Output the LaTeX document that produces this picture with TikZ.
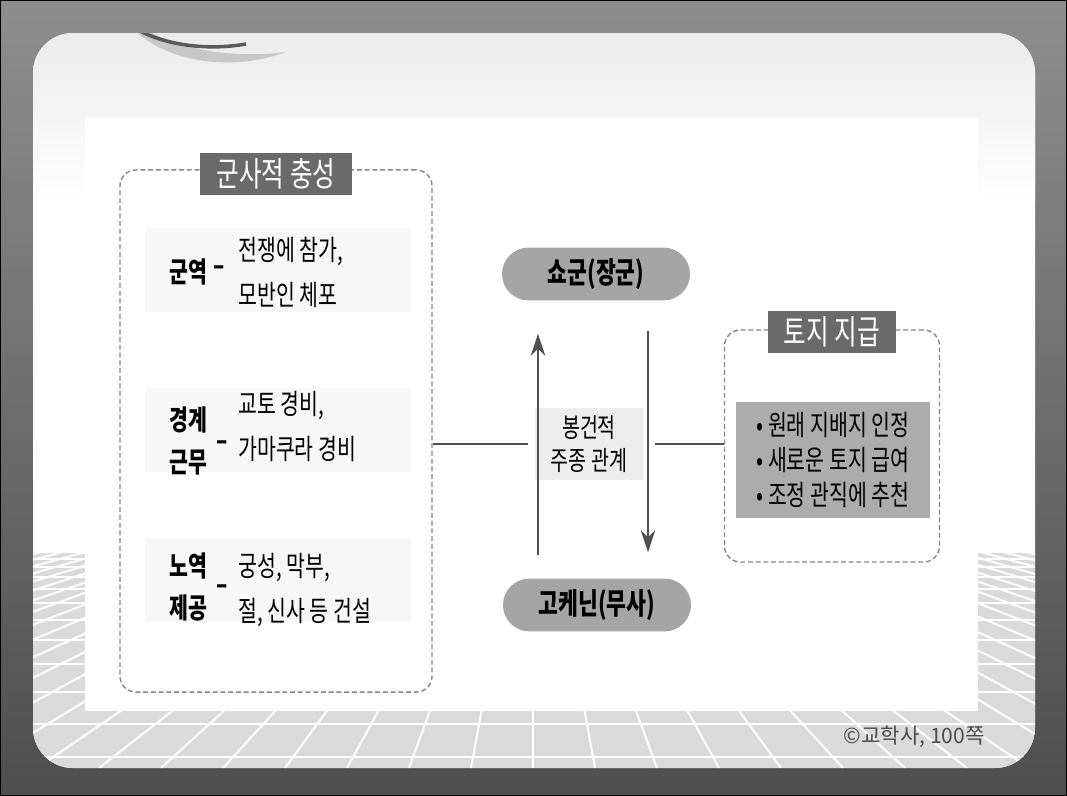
\documentclass[tikz,border=0pt]{standalone}
\usepackage{fontspec}
\newfontfamily\kr[FakeStretch=0.73]{Noto Sans CJK KR}
\newfontfamily\krwide{Noto Sans CJK KR}
\usepackage{xcolor}
\definecolor{framegray}{RGB}{142,142,142}
\definecolor{framedark}{RGB}{78,78,78}
\definecolor{titlegray}{RGB}{106,106,106}
\definecolor{pillgray}{RGB}{165,165,165}
\definecolor{boxgray}{RGB}{172,172,172}
\definecolor{dashgray}{RGB}{135,135,135}
\definecolor{linegray}{RGB}{80,80,80}
\definecolor{floorgray}{RGB}{218,218,218}
\usepackage{tikz}
\usetikzlibrary{arrows.meta,positioning,calc}

\begin{document}
\begin{tikzpicture}[x=0.025cm,y=-0.025cm,
    every node/.style={font=\kr\fontsize{20}{32}\selectfont,inner sep=0pt},
    dashbox/.style={draw=dashgray,line width=1pt,dash pattern=on 3.5pt off 2pt,
                    rounded corners=0.4cm},
    tag/.style={fill=titlegray,text=white,font=\kr\fontsize{24}{26}\selectfont,
                minimum height=1.05cm},
    band/.style={fill=black!3,minimum width=6.625cm,minimum height=2.1cm},
    duty/.style={font=\kr\bfseries\fontsize{20}{30}\selectfont,align=left},
    item/.style={anchor=west,align=left},
    pill/.style={fill=pillgray,rounded corners=0.66cm,minimum width=4.7cm,
                 minimum height=1.32cm,font=\kr\bfseries\fontsize{21}{24}\selectfont},
    arr/.style={-{Stealth[length=0.55cm,width=0.36cm]},line width=1.8pt,linegray},
    link/.style={line width=1.5pt,linegray}]

  \useasboundingbox (0,0) rectangle (1067,796);

  %% slide frame
  \shade[top color=framegray,bottom color=framedark] (0,0) rectangle (1067,796);
  \draw[black,line width=1pt] (0.6,0.6) rectangle (1066.4,795.4);
  \fill[white,rounded corners=1cm] (33,33) rectangle (1035,768);

  \begin{scope}
    \clip[rounded corners=1cm] (33,33) rectangle (1035,768);
    \shade[top color=black!8,bottom color=white] (33,33) rectangle (1035,200);
    %% floor grid
    \fill[floorgray] (33,553) rectangle (1035,768);
    \begin{scope}
      \clip (33,553) rectangle (1035,768);
      \foreach \gy in {559,567,577,589,603,620,640,664,692,724,757}
        \draw[white,line width=1.4pt] (33,\gy) -- (1035,\gy);
      \foreach \gk in {-24,...,24}
        \draw[white,line width=1.4pt] (533,430) -- (533+\gk*62,768);
    \end{scope}
    %% swoosh
    \fill[black!22] (138,33) .. controls (170,62) and (232,72) .. (286,52)
      .. controls (240,58) and (190,52) .. (152,33) -- cycle;
    \draw[black!65,line width=2.5pt] (138,30) .. controls (170,47) and (212,50) .. (246,44);
  \end{scope}
  \fill[white] (85,118) rectangle (978,711);

  %% military loyalty
  \node[dashbox,minimum width=7.8cm,minimum height=13.05cm] (duties) at (276,431) {};
  \node[tag,minimum width=3.8cm] (loyal) at (276,174) {군사적 충성};
  \node[band] (band1) at (278,270) {};
  \node[band] (band2) at (278,430) {};
  \node[band] (band3) at (278,580) {};

  \node[duty] (army) at (188,272) {군역};
  \node[duty] (armydash) at (219,271) {–};
  \node[item] (armyitem) at (238,272) {전쟁에 참가,\\모반인 체포};

  \node[duty] (guard) at (188,441) {경계\\근무};
  \node[duty] (guarddash) at (222,446) {–};
  \node[item] (guarditem) at (238,426) {교토 경비,\\가마쿠라 경비};

  \node[duty] (labor) at (188,587) {노역\\제공};
  \node[duty] (labordash) at (222,590) {–};
  \node[item] (laboritem) at (238,590) {궁성, 막부,\\절, 신사 등 건설};

  %% lord and vassal
  \node[pill] (shogun) at (596,274) {쇼군(장군)};
  \node[pill] (gokenin) at (597,605) {고케닌(무사)};
  \node[fill=black!7,minimum width=2.7cm,minimum height=1.8cm,align=center,
        font=\kr\fontsize{19}{24}\selectfont] (bond) at (589,444) {봉건적\\주종 관계};

  %% land grant
  \node[dashbox,minimum width=5.375cm,minimum height=5.8cm] (land) at (832,446) {};
  \node[tag,minimum width=3.175cm,minimum height=1.025cm] (grant) at (832,332) {토지 지급};
  \node[fill=boxgray,minimum width=4.825cm,minimum height=2.9cm,align=left,
        font=\kr\fontsize{20}{25}\selectfont] (grantlist) at (833,460)
        {• 원래 지배지 인정\\• 새로운 토지 급여\\• 조정 관직에 추천};

  \node[anchor=east,text=black!70,font=\krwide\fontsize{15}{18}\selectfont] (credit)
        at (985,737) {©교학사, 100쪽};

  %% arrows
  \draw[arr,shorten <=0.575cm,shorten >=0.825cm]
    ($(gokenin.north)+(-59,0)$) -- ($(shogun.south)+(-58,0)$);
  \draw[arr,shorten <=0.75cm,shorten >=0.65cm]
    ($(shogun.south)+(52,0)$) -- ($(gokenin.north)+(51,0)$);
  \draw[link,shorten >=0.18cm] (duties.east |- bond.west) -- (bond.west);
  \draw[link,shorten <=0.3cm] (bond.east) -- (land.west |- bond.east);
\end{tikzpicture}
\end{document}
